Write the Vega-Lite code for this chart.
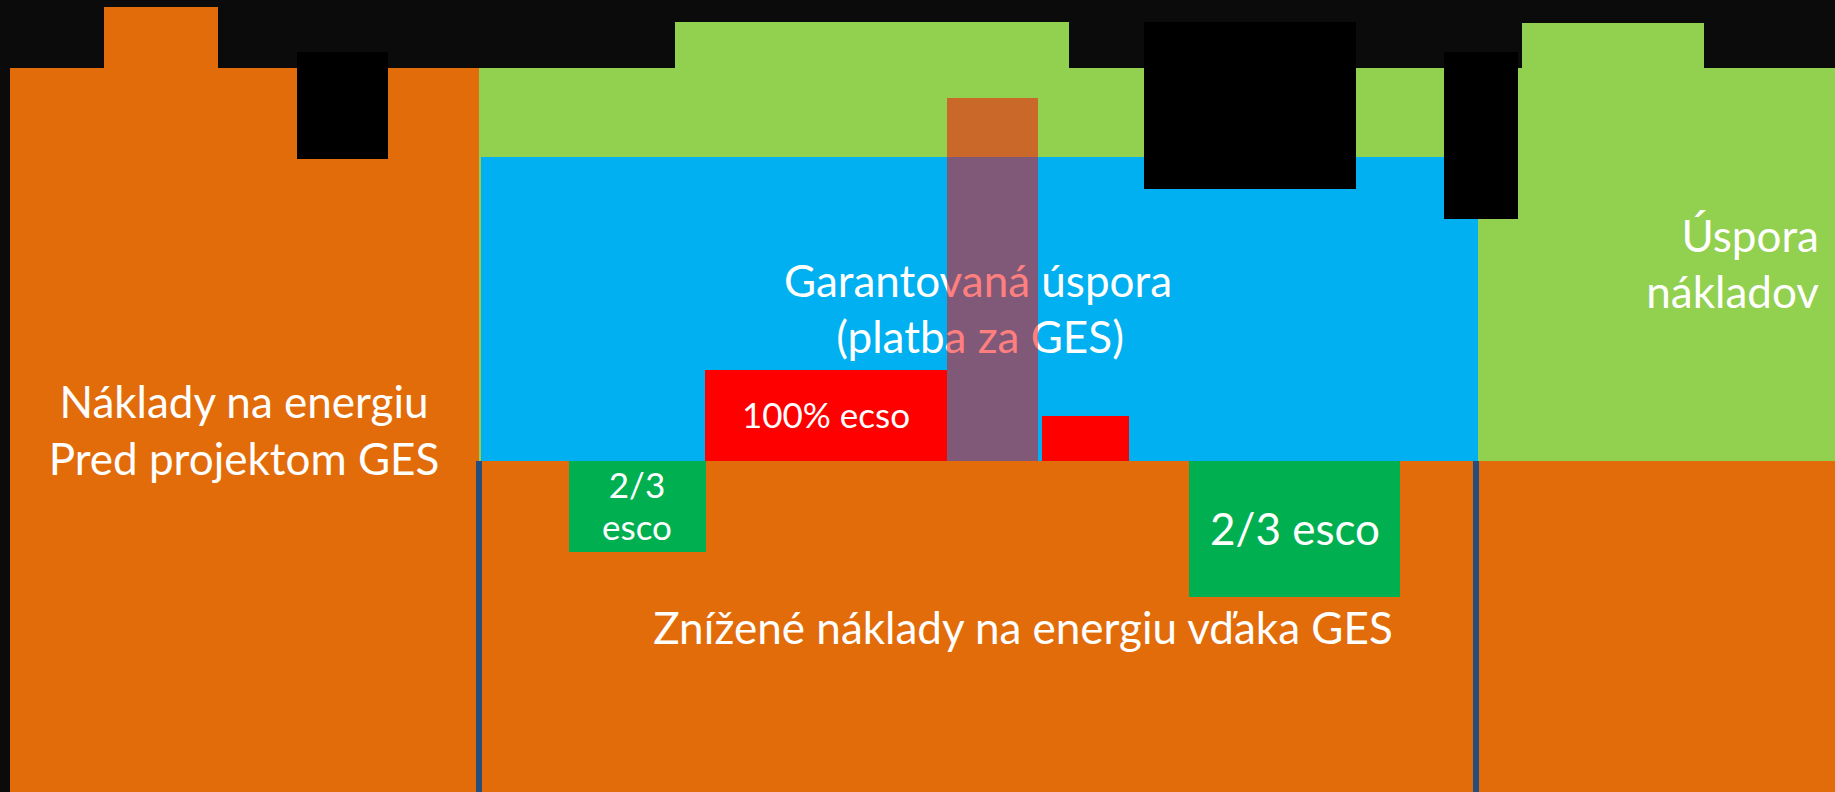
{
  "$schema": "https://vega.github.io/schema/vega-lite/v6.json",
  "width": 1835,
  "height": 792,
  "autosize": {"type": "none"},
  "padding": 0,
  "background": "#0b0b0b",
  "config": {"view": {"stroke": null}},
  "datasets": {
    "base": [
      {"part": "naklady", "x0": 10, "x1": 479, "y0": 68, "y1": 792},
      {"part": "naklady", "x0": 104, "x1": 218, "y0": 7, "y1": 68},
      {"part": "uspora", "x0": 479, "x1": 1835, "y0": 68, "y1": 461},
      {"part": "uspora", "x0": 675, "x1": 1069, "y0": 22, "y1": 68},
      {"part": "uspora", "x0": 1522, "x1": 1704, "y0": 23, "y1": 68},
      {"part": "garant", "x0": 481, "x1": 1478, "y0": 157, "y1": 461},
      {"part": "naklady", "x0": 479, "x1": 1835, "y0": 461, "y1": 792}
    ],
    "pieces": [
      {"part": "esco100", "x0": 705, "x1": 947, "y0": 370, "y1": 461},
      {"part": "esco100", "x0": 1042, "x1": 1129, "y0": 416, "y1": 461},
      {"part": "esco23", "x0": 569, "x1": 706, "y0": 461, "y1": 552},
      {"part": "esco23", "x0": 1189, "x1": 1400, "y0": 461, "y1": 597},
      {"part": "mask", "x0": 297, "x1": 388, "y0": 52, "y1": 159},
      {"part": "mask", "x0": 1144, "x1": 1356, "y0": 22, "y1": 189},
      {"part": "mask", "x0": 1444, "x1": 1518, "y0": 52, "y1": 219}
    ],
    "dividers": [
      {"x": 479, "y0": 461, "y1": 792},
      {"x": 1476, "y0": 461, "y1": 792}
    ],
    "bigCenter": [
      {"label": "Náklady na energiu", "x": 244, "y": 418},
      {"label": "Pred projektom GES", "x": 244, "y": 475},
      {"label": "Garantovaná úspora", "x": 978, "y": 297},
      {"label": "(platba za GES)", "x": 980, "y": 353},
      {"label": "Znížené náklady na energiu vďaka GES", "x": 1023, "y": 644},
      {"label": "2/3 esco", "x": 1295, "y": 545}
    ],
    "bigRight": [
      {"label": "Úspora", "x": 1819, "y": 252},
      {"label": "nákladov", "x": 1819, "y": 308}
    ],
    "smallCenter": [
      {"label": "100% ecso", "x": 826, "y": 428},
      {"label": "2/3", "x": 637, "y": 498},
      {"label": "esco", "x": 637, "y": 540}
    ],
    "overlay": [
      {"x0": 947, "x1": 1038, "y0": 98, "y1": 461}
    ]
  },
  "layer": [
    {
      "data": {"name": "base"},
      "mark": {"type": "rect", "strokeWidth": 0},
      "encoding": {
        "x": {"field": "x0", "type": "quantitative", "scale": {"domain": [0, 1835], "nice": false, "zero": false}, "axis": null},
        "x2": {"field": "x1"},
        "y": {"field": "y0", "type": "quantitative", "scale": {"domain": [0, 792], "nice": false, "zero": false, "reverse": true}, "axis": null},
        "y2": {"field": "y1"},
        "color": {"field": "part", "type": "nominal", "legend": null,
          "scale": {"domain": ["naklady", "uspora", "garant", "esco100", "esco23", "mask"],
                    "range": ["#E36C0A", "#92D050", "#00B0F0", "#FF0000", "#00B050", "#000000"]}}
      }
    },
    {
      "data": {"name": "pieces"},
      "mark": {"type": "rect", "strokeWidth": 0},
      "encoding": {
        "x": {"field": "x0", "type": "quantitative"},
        "x2": {"field": "x1"},
        "y": {"field": "y0", "type": "quantitative"},
        "y2": {"field": "y1"},
        "color": {"field": "part", "type": "nominal", "legend": null}
      }
    },
    {
      "data": {"name": "dividers"},
      "mark": {"type": "rule", "color": "#264E7C", "strokeWidth": 6},
      "encoding": {
        "x": {"field": "x", "type": "quantitative"},
        "y": {"field": "y0", "type": "quantitative"},
        "y2": {"field": "y1"}
      }
    },
    {
      "data": {"name": "bigCenter"},
      "mark": {"type": "text", "align": "center", "baseline": "alphabetic", "font": "Lato", "fontSize": 44, "color": "#FFFFFF"},
      "encoding": {
        "x": {"field": "x", "type": "quantitative"},
        "y": {"field": "y", "type": "quantitative"},
        "text": {"field": "label"}
      }
    },
    {
      "data": {"name": "bigRight"},
      "mark": {"type": "text", "align": "right", "baseline": "alphabetic", "font": "Lato", "fontSize": 44, "color": "#FFFFFF"},
      "encoding": {
        "x": {"field": "x", "type": "quantitative"},
        "y": {"field": "y", "type": "quantitative"},
        "text": {"field": "label"}
      }
    },
    {
      "data": {"name": "smallCenter"},
      "mark": {"type": "text", "align": "center", "baseline": "alphabetic", "font": "Lato", "fontSize": 35, "color": "#FFFFFF"},
      "encoding": {
        "x": {"field": "x", "type": "quantitative"},
        "y": {"field": "y", "type": "quantitative"},
        "text": {"field": "label"}
      }
    },
    {
      "data": {"name": "overlay"},
      "mark": {"type": "rect", "color": "#FF0000", "opacity": 0.5, "strokeWidth": 0},
      "encoding": {
        "x": {"field": "x0", "type": "quantitative"},
        "x2": {"field": "x1"},
        "y": {"field": "y0", "type": "quantitative"},
        "y2": {"field": "y1"}
      }
    }
  ]
}
